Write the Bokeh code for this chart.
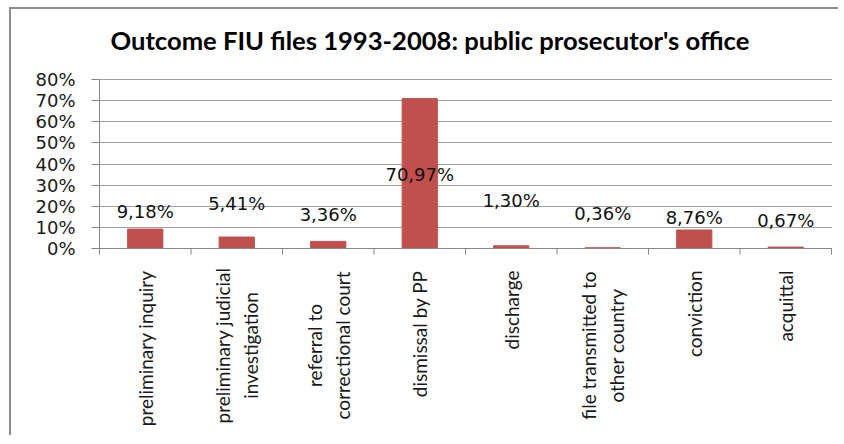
import math
from bokeh.plotting import figure
from bokeh.models import FixedTicker, PrintfTickFormatter, ColumnDataSource, Range1d
from bokeh.core.properties import value
from bokeh.embed import file_html
from bokeh.resources import INLINE

# ---- data ----
categories = [
    "preliminary inquiry",
    "preliminary judicial\ninvestigation",
    "referral to\ncorrectional court",
    "dismissal by PP",
    "discharge",
    "file transmitted to\nother country",
    "conviction",
    "acquittal",
]
shares = [9.18, 5.41, 3.36, 70.97, 1.30, 0.36, 8.76, 0.67]
y_ticks = [0, 10, 20, 30, 40, 50, 60, 70, 80]
# data-label heights (in % units) as placed in the original chart
label_y = [17.5, 21.3, 16.1, 35.0, 22.7, 16.6, 14.7, 13.3]

title_text = "Outcome FIU files 1993-2008: public prosecutor's office"

# ---- layout constants (pixels, canvas coordinates) ----
W, H = 829, 428
FL = 88                 # left edge of plotting area
CAT_PX = 91.5           # width of one category
Y0_PX, Y80_PX = 239, 70 # canvas rows of 0% and 80%
Y_MAX = 80
ppu = (Y0_PX - Y80_PX) / Y_MAX

n = len(categories)
FW = int(round(n * CAT_PX + 1))
centers = [i + 0.5 for i in range(n)]
labels = [f"{v:.2f}".replace(".", ",") + "%" for v in shares]

src = ColumnDataSource(dict(x=centers, top=shares, ly=label_y, lab=labels))

p = figure(width=W, height=H, output_backend="svg", toolbar_location=None,
           x_range=Range1d(0, FW / CAT_PX),
           y_range=Range1d(-(H - Y0_PX) / ppu, Y_MAX + Y80_PX / ppu),
           min_border_left=FL, min_border_right=W - FL - FW,
           min_border_top=0, min_border_bottom=0)
p.styles = {"border-left": "2px solid #8c8c8c", "border-top": "2px solid #8c8c8c",
            "margin-left": "9px", "margin-top": "7px"}

p.outline_line_color = None
p.background_fill_color = "white"
p.border_fill_color = "white"

AX_COL = "#868686"

# gridlines
p.ygrid.ticker = FixedTicker(ticks=y_ticks)
p.ygrid.grid_line_color = "#a0a0a0"
p.xgrid.grid_line_color = None

# bars
p.vbar(x="x", top="top", width=0.385, bottom=0, source=src,
       fill_color="#C0504D", line_color="#C0504D")

# data labels
p.text(x="x", y="ly", text="lab", source=src, text_align="center", text_baseline="middle",
       text_font=value("DejaVu Sans"), text_font_size="18px", text_color="#111111")

# category axis line and boundary tick marks
TICK_PX = 6
bounds = list(range(1, n + 1))
p.segment(x0=[0], y0=[0], x1=[n], y1=[0], line_color=AX_COL, line_width=1)
p.segment(x0=bounds, y0=[0] * len(bounds), x1=bounds, y1=[-TICK_PX / ppu] * len(bounds),
          line_color=AX_COL, line_width=1)

# y axis
ya = p.yaxis[0]
ya.ticker = FixedTicker(ticks=y_ticks)
ya.bounds = (-TICK_PX / ppu, Y_MAX)
ya.formatter = PrintfTickFormatter(format="%d%%")
ya.axis_line_color = AX_COL
ya.major_tick_line_color = AX_COL
ya.major_tick_out = 8
ya.major_tick_in = 0
ya.minor_tick_line_color = None
ya.major_label_standoff = 16
ya.major_label_text_font = "DejaVu Sans"
ya.major_label_text_font_size = "18px"
ya.major_label_text_color = "#1a1a1a"
p.xaxis.visible = False

# category names (rotated), drawn below the axis line
GAP = 22        # px between axis line and top of category labels
BLOCK_MID = 97  # px below axis of the centre of two-line labels
LINE_SP = 28    # px between lines
one = dict(x=[], y=[], t=[])
multi = dict(x=[], y=[], t=[], dx=[])
for c, cat in zip(centers, categories):
    lines = cat.split("\n")
    if len(lines) == 1:
        one["x"].append(c); one["y"].append(-GAP / ppu); one["t"].append(cat)
    else:
        k = len(lines)
        for j, line in enumerate(lines):
            multi["x"].append(c); multi["y"].append(-BLOCK_MID / ppu)
            multi["t"].append(line); multi["dx"].append((j - (k - 1) / 2) * LINE_SP)

cat_style = dict(angle=math.pi / 2, text_font=value("Lato"), text_font_size="19px",
                 text_color="#1a1a1a", text_baseline="middle")
p.text(x="x", y="y", text="t", source=ColumnDataSource(one), text_align="right", **cat_style)
p.text(x="x", y="y", text="t", x_offset="dx", source=ColumnDataSource(multi),
       text_align="center", **cat_style)

# chart title
TITLE_DX_PX = 11   # from left edge of plotting area
TITLE_DY_PX = 40   # above the 80% line
p.text(x=[TITLE_DX_PX / CAT_PX], y=[Y_MAX + TITLE_DY_PX / ppu], text=[title_text],
       text_align="left", text_baseline="middle", text_font=value("Lato"),
       text_font_style="bold", text_font_size="25.6px", text_color="#000000")

open("out.html", "w").write(file_html(p, INLINE))
